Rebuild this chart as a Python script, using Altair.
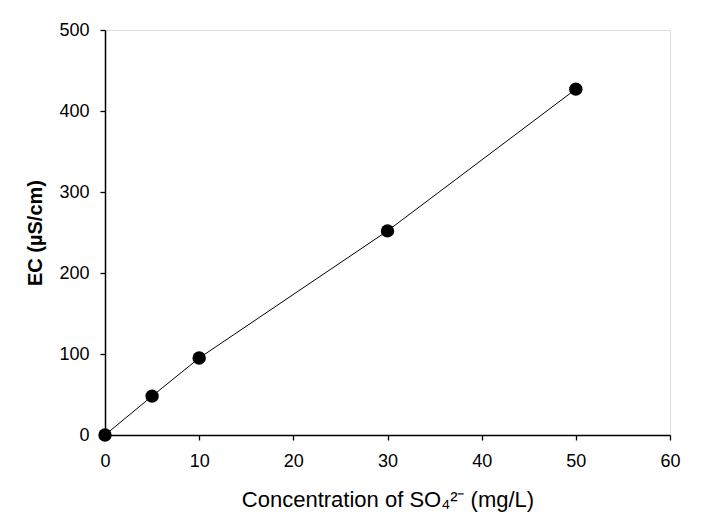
import altair as alt
import pandas as pd

conc = [0, 5, 10, 30, 50]
ec = [0, 48, 95, 252, 427]
x_ticks = [0, 10, 20, 30, 40, 50, 60]
y_ticks = [0, 100, 200, 300, 400, 500]

df = pd.DataFrame({"conc": conc, "ec": ec})

FONT = "Liberation Sans"

x_enc = alt.X("conc:Q", scale=alt.Scale(domain=[0, 60], nice=False),
              axis=alt.Axis(values=x_ticks, title="Concentration of SO\u2084\u00b2\u207b (mg/L)",
                            grid=False, tickSize=5, labelPadding=12, titlePadding=19,
                            labelFlush=False,
                            domainColor="black", tickColor="black", labelColor="black",
                            titleColor="black", labelFontSize=18, titleFontSize=22,
                            titleFontWeight="normal", labelFont=FONT, titleFont=FONT,
                            domainWidth=1.5, tickWidth=1.3))
y_enc = alt.Y("ec:Q", scale=alt.Scale(domain=[0, 500], nice=False),
              axis=alt.Axis(values=y_ticks, title="EC (\u00b5S/cm)",
                            grid=False, tickSize=5, labelPadding=11, titlePadding=13,
                            labelFlush=False,
                            domainColor="black", tickColor="black", labelColor="black",
                            titleColor="black", labelFontSize=18, titleFontSize=20,
                            titleFontWeight="bold", labelFont=FONT, titleFont=FONT,
                            domainWidth=1.5, tickWidth=1.3))

base = alt.Chart(df)
line = base.mark_line(color="black", strokeWidth=1).encode(x=x_enc, y=y_enc)
pts = base.mark_circle(color="black", opacity=1, size=180).encode(x=x_enc, y=y_enc)

chart = (line + pts).properties(
    width=565, height=405,
    autosize=alt.AutoSizeParams(type="none"),
    padding={"left": 97, "top": 22, "right": 20, "bottom": 90},
).configure_view(stroke="black", strokeWidth=1.5).configure(background="white")

chart.save("out.html", embed_options={"renderer": "svg", "actions": False})
